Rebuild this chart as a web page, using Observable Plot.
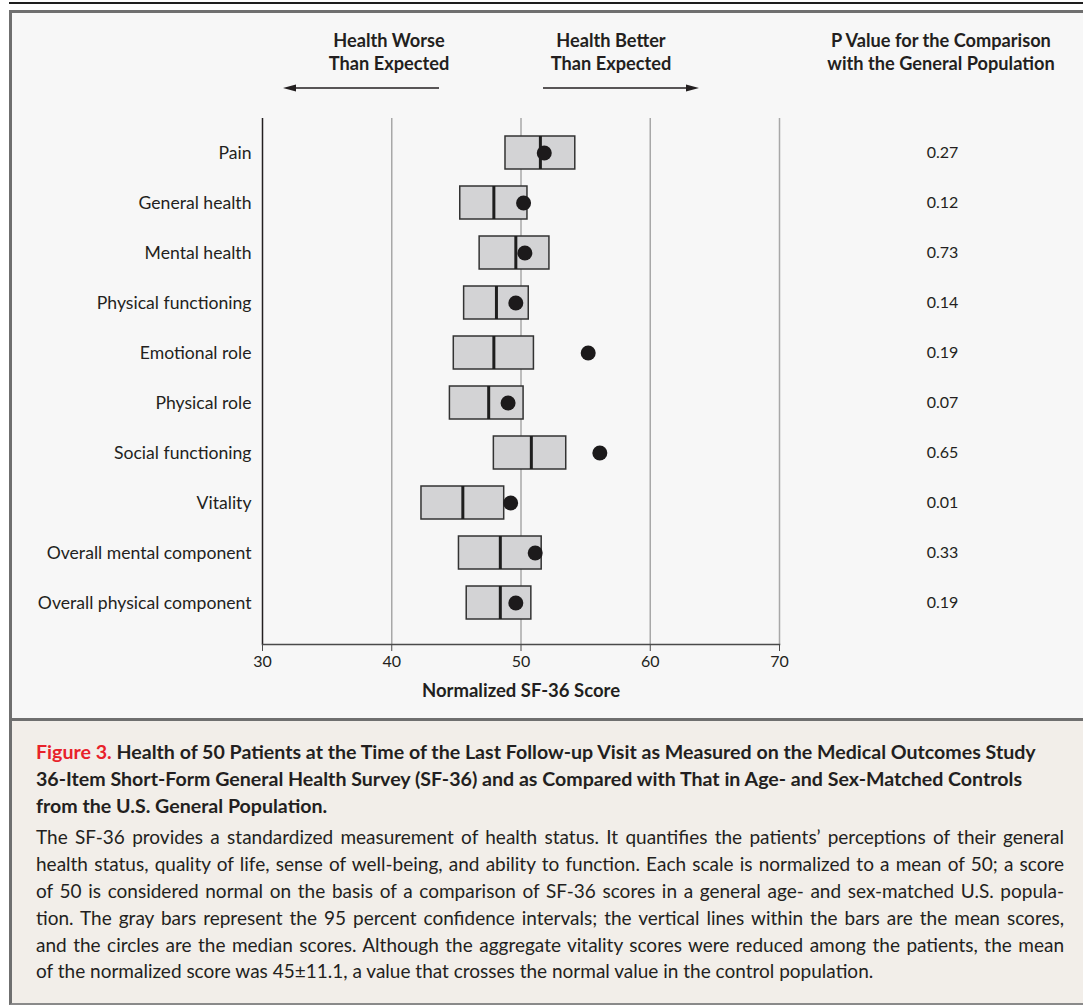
<!DOCTYPE html>
<html>
<head>
<meta charset="utf-8">
<script src="https://cdn.jsdelivr.net/npm/d3@7"></script>
<script src="https://cdn.jsdelivr.net/npm/@observablehq/plot@0.6"></script>
<style>
  html, body { margin: 0; padding: 0; background: #ffffff; }
  #page { position: relative; width: 1083px; height: 1005px; overflow: hidden; font-family: Lato, "Open Sans", sans-serif; color: #222; }
  .abs { position: absolute; }
  #topline { left: 9px; top: 2px; width: 1074px; height: 2px; background: #1e1e1e; }
  #panel { left: 9px; top: 10px; width: 1100px; height: 711px; background: #f7f7f7; border: 3px solid #6f6f6f; box-sizing: border-box; }
  #capbox { left: 9px; top: 721px; width: 1100px; height: 284px; background: #f2eee9; border-left: 3px solid #6f6f6f; border-bottom: 2px solid #8a8a8a; box-sizing: border-box; }
  .hdr { font-weight: 700; font-size: 18.2px; line-height: 23px; text-align: center; color: #231f20; white-space: nowrap; }
  #chart { left: 0; top: 0; }
  #chart svg { overflow: visible; }
  #chart [aria-label="x-axis label"] text, #chart [aria-label="x-axis label"] { font-weight: 700; font-size: 18.5px; }
  #caption { left: 36px; top: 739px; width: 1028px; }
  .tline { font-weight: 700; font-size: 19.6px; line-height: 26.8px; white-space: nowrap; color: #231f20; }
  .red { color: #e8222a; }
  .bline { font-size: 19px; line-height: 26.8px; text-align: justify; text-align-last: justify; white-space: nowrap; color: #231f20; }
  .bline.last { text-align-last: left; }
</style>
</head>
<body>
<div id="page">
  <div id="topline" class="abs"></div>
  <div id="panel" class="abs"></div>
  <div id="capbox" class="abs"></div>

  <div class="abs hdr" style="left:289px; top:29px; width:200px;">Health Worse<br>Than Expected</div>
  <div class="abs hdr" style="left:511px; top:29px; width:200px;">Health Better<br>Than Expected</div>
  <div class="abs hdr" style="left:791px; top:29px; width:300px;">P Value for the Comparison<br>with the General Population</div>
  <svg class="abs" style="left:0; top:0;" width="1083" height="110">
    <line x1="293" y1="88" x2="439" y2="88" stroke="#231f20" stroke-width="1.6"/>
    <path d="M283,88 L296,84.5 L296,91.5 Z" fill="#231f20"/>
    <line x1="543" y1="88" x2="689" y2="88" stroke="#231f20" stroke-width="1.6"/>
    <path d="M699,88 L686,84.5 L686,91.5 Z" fill="#231f20"/>
  </svg>

  <div id="chart" class="abs"></div>

  <div id="caption" class="abs">
    <div class="tline"><span class="red">Figure 3.</span> Health of 50 Patients at the Time of the Last Follow-up Visit as Measured on the Medical Outcomes Study</div>
    <div class="tline">36-Item Short-Form General Health Survey (SF-36) and as Compared with That in Age- and Sex-Matched Controls</div>
    <div class="tline">from the U.S. General Population.</div>
    <div style="height:5px"></div>
    <div class="bline">The SF-36 provides a standardized measurement of health status. It quantifies the patients’ perceptions of their general</div>
    <div class="bline">health status, quality of life, sense of well-being, and ability to function. Each scale is normalized to a mean of 50; a score</div>
    <div class="bline">of 50 is considered normal on the basis of a comparison of SF-36 scores in a general age- and sex-matched U.S. popula-</div>
    <div class="bline">tion. The gray bars represent the 95 percent confidence intervals; the vertical lines within the bars are the mean scores,</div>
    <div class="bline">and the circles are the median scores. Although the aggregate vitality scores were reduced among the patients, the mean</div>
    <div class="bline last">of the normalized score was 45±11.1, a value that crosses the normal value in the control population.</div>
  </div>
</div>

<script>
// ---- data ----
const categories = [
  "Pain",
  "General health",
  "Mental health",
  "Physical functioning",
  "Emotional role",
  "Physical role",
  "Social functioning",
  "Vitality",
  "Overall mental component",
  "Overall physical component"
];
const ciLow   = [48.8, 45.3, 46.8, 45.6, 44.8, 44.5, 47.9, 42.3, 45.2, 45.8];
const ciHigh  = [54.2, 50.5, 52.2, 50.6, 51.0, 50.2, 53.5, 48.7, 51.6, 50.8];
const means   = [51.5, 47.9, 49.6, 48.1, 47.9, 47.5, 50.8, 45.5, 48.4, 48.4];
const medians = [51.8, 50.2, 50.3, 49.6, 55.2, 49.0, 56.1, 49.2, 51.1, 49.6];
const pValues = ["0.27", "0.12", "0.73", "0.14", "0.19", "0.07", "0.65", "0.01", "0.33", "0.19"];
const xTicks  = [30, 40, 50, 60, 70];

const rows = categories.map((c, i) => ({
  category: c, lo: ciLow[i], hi: ciHigh[i], mean: means[i], median: medians[i], p: pValues[i]
}));
const pMap = new Map(categories.map((c, i) => [c, pValues[i]]));

const chart = Plot.plot({
  width: 1083,
  height: 720,
  marginTop: 118,
  marginBottom: 76,
  marginLeft: 262,
  marginRight: 304,
  style: { background: "transparent", fontFamily: "Lato, 'Open Sans', sans-serif", color: "#231f20", overflow: "visible" },
  x: { domain: [30, 70], ticks: xTicks },
  y: { domain: categories, padding: 0.34, insetBottom: 8 },
  marks: [
    Plot.ruleX(xTicks.slice(1), { stroke: "#a8a8a8", strokeWidth: 1.5 }),
    Plot.ruleX(xTicks.slice(0, 1), { stroke: "#231f20", strokeWidth: 1.5 }),
    Plot.frame({ anchor: "bottom", stroke: "#4a4a4a", strokeWidth: 1.6 }),
    Plot.axisX({
      ticks: xTicks, tickSize: 7, tickPadding: 4, fontSize: 16, stroke: "#4a4a4a",
      label: "Normalized SF-36 Score", labelAnchor: "center", labelArrow: "none", labelOffset: 52
    }),
    Plot.axisY({ anchor: "left", tickSize: 0, tickPadding: 11, fontSize: 17.6, label: null }),
    Plot.axisY({
      anchor: "right", tickSize: 0, tickPadding: 0, textAnchor: "middle", dx: 163,
      tickFormat: d => pMap.get(d), fontSize: 16, label: null
    }),
    Plot.barX(rows, { x1: "lo", x2: "hi", y: "category", fill: "#d3d3d5", stroke: "#333", strokeWidth: 1.5 }),
    Plot.tickX(rows, { x: "mean", y: "category", stroke: "#1e1e1e", strokeWidth: 3 }),
    Plot.dot(rows, { x: "median", y: "category", r: 7.5, fill: "#1c1a1b", stroke: "none" })
  ]
});
document.getElementById("chart").appendChild(chart);
</script>
</body>
</html>
